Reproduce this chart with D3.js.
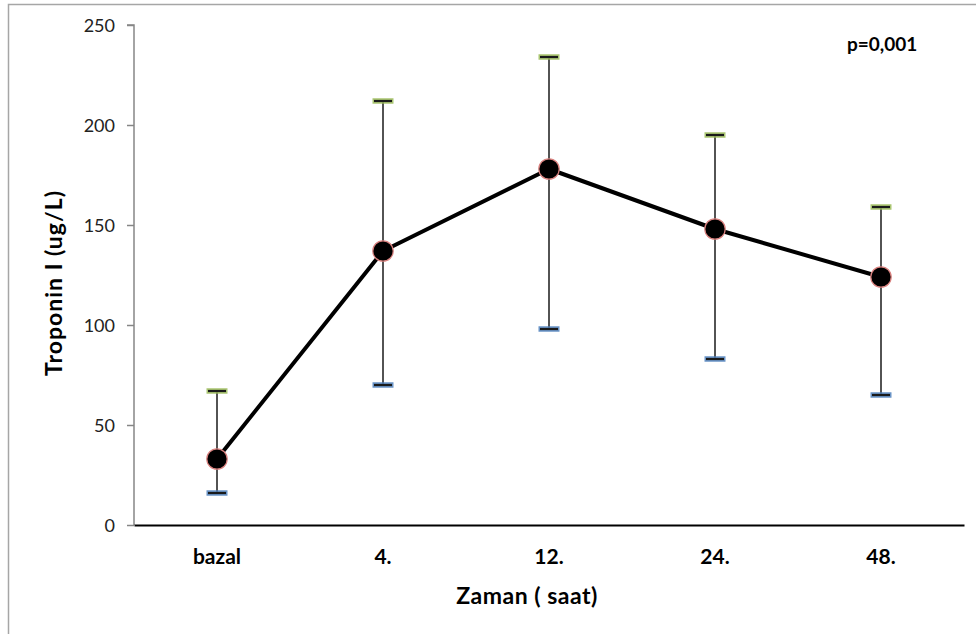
<!DOCTYPE html>
<html>
<head>
<meta charset="utf-8">
<script src="https://cdn.jsdelivr.net/npm/d3@7"></script>
<style>
  html, body { margin: 0; padding: 0; background: #fff; }
  svg { display: block; font-family: Lato, "Open Sans", sans-serif; }
</style>
</head>
<body>
<svg id="chart" width="976" height="634"></svg>
<script>
// values
const categories = ['bazal', '4.', '12.', '24.', '48.'];
const means = [33, 137, 178, 148, 124];
const upper = [67, 212, 234, 195, 159];
const lower = [16, 70, 98, 83, 65];
const yTicks = [0, 50, 100, 150, 200, 250];

const margin = { left: 134, right: 12, top: 25, bottom: 109 };
const width = 976, height = 634;

const svg = d3.select('#chart');

// outer frame (clipped at right/bottom)
svg.append('path')
    .attr('d', 'M8.5,634 V4.5 H976')
    .attr('fill', 'none')
    .attr('stroke', '#a6a6a6')
    .attr('stroke-width', 1.5);

const x = d3.scaleBand()
    .domain(categories)
    .range([margin.left, width - margin.right]);

const y = d3.scaleLinear()
    .domain([0, 250])
    .range([height - margin.bottom, margin.top]);

// y axis
const yAxis = svg.append('g')
    .attr('transform', `translate(${margin.left},0)`)
    .call(d3.axisLeft(y).tickValues(yTicks).tickSize(7).tickPadding(12));
yAxis.select('.domain').attr('stroke', '#868686').attr('stroke-width', 1.5)
    .attr('d', `M-7,${y(250)}H0V${y(0)}`);
yAxis.selectAll('.tick line').attr('stroke', '#868686').attr('stroke-width', 1.5);
yAxis.selectAll('.tick text')
    .attr('fill', '#222')
    .attr('dy', '0.36em')
    .style('font-size', '18px')
    .style('font-family', 'Lato, sans-serif');

// x axis
const xAxis = svg.append('g')
    .attr('transform', `translate(0,${y(0)})`)
    .call(d3.axisBottom(x).tickSize(0).tickPadding(0));
xAxis.select('.domain').attr('stroke', '#000').attr('stroke-width', 2);
xAxis.selectAll('.tick text')
    .attr('y', 39)
    .attr('dy', 0)
    .attr('fill', '#000')
    .style('font-size', '21px')
    .style('font-weight', 'bold')
    .style('font-family', 'Lato, sans-serif');

const cx = d => x(d) + x.bandwidth() / 2;

// error bars
const err = svg.append('g');
categories.forEach((c, i) => {
    err.append('line')
        .attr('x1', cx(c)).attr('x2', cx(c))
        .attr('y1', y(upper[i])).attr('y2', y(lower[i]))
        .attr('stroke', '#1a1a1a').attr('stroke-width', 1.5);
    [[upper[i], '#9bbb59'], [lower[i], '#4f81bd']].forEach(([v, glow]) => {
        err.append('line')
            .attr('x1', cx(c) - 10.5).attr('x2', cx(c) + 10.5)
            .attr('y1', y(v)).attr('y2', y(v))
            .attr('stroke', glow).attr('stroke-width', 5.5).attr('opacity', 0.85);
        err.append('line')
            .attr('x1', cx(c) - 9).attr('x2', cx(c) + 9)
            .attr('y1', y(v)).attr('y2', y(v))
            .attr('stroke', '#1a1a1a').attr('stroke-width', 2.2);
    });
});

// mean line
const line = d3.line()
    .x((d, i) => cx(categories[i]))
    .y(d => y(d));
svg.append('path')
    .datum(means)
    .attr('d', line)
    .attr('fill', 'none')
    .attr('stroke', '#000')
    .attr('stroke-width', 4)
    .attr('stroke-linejoin', 'round');

svg.append('g').selectAll('circle')
    .data(means)
    .enter()
    .append('circle')
    .attr('cx', (d, i) => cx(categories[i]))
    .attr('cy', d => y(d))
    .attr('r', 10.2)
    .attr('fill', '#000')
    .attr('stroke', '#d9807e')
    .attr('stroke-width', 1.2);

// axis titles
svg.append('text')
    .attr('x', 527)
    .attr('y', 604)
    .attr('text-anchor', 'middle')
    .style('font-size', '23px')
    .style('font-weight', 'bold')
    .style('letter-spacing', '0.5px')
    .text('Zaman ( saat)');

svg.append('text')
    .attr('transform', 'translate(62,283) rotate(-90)')
    .attr('text-anchor', 'middle')
    .style('font-size', '23px')
    .style('font-weight', 'bold')
    .style('letter-spacing', '1px')
    .text('Troponin I (ug/L)');

svg.append('text')
    .attr('x', 847)
    .attr('y', 51)
    .style('font-size', '19px')
    .style('font-weight', 'bold')
    .text('p=0,001');
</script>
</body>
</html>
